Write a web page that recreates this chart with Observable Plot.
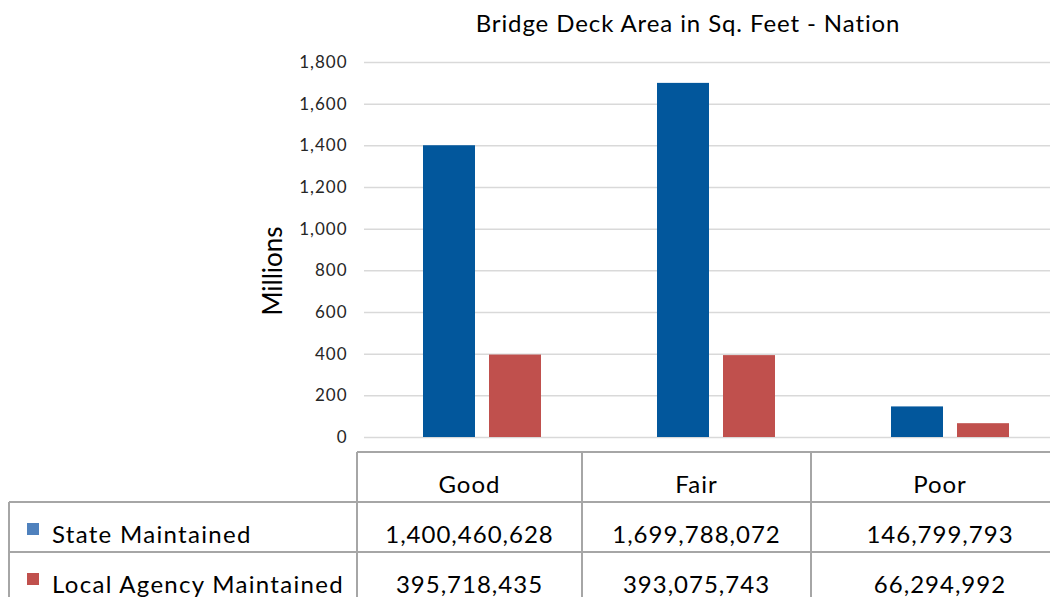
<!DOCTYPE html>
<html>
<head>
<meta charset="utf-8">
<script src="https://cdn.jsdelivr.net/npm/d3@7"></script>
<script src="https://cdn.jsdelivr.net/npm/@observablehq/plot@0.6"></script>
<style>
  html, body { margin: 0; padding: 0; background: #fff; }
  #chart { position: relative; width: 1050px; height: 597px; overflow: hidden; font-family: Lato, "Open Sans", sans-serif; color: #000; }
  #title { position: absolute; left: 0; width: 1376px; top: 8px; text-align: center; font-size: 24px; letter-spacing: 0.9px; }
  #plot { position: absolute; left: 0; top: 0; }
  #plot g[aria-label="y-axis tick label"] text { letter-spacing: 1px; }
  .hline { position: absolute; height: 2px; background: #a6a6a6; }
  .vline { position: absolute; width: 2px; background: #a6a6a6; }
  .cell { position: absolute; box-sizing: border-box; padding-top: 12px; display: flex; align-items: center; justify-content: center; font-size: 24px; letter-spacing: 1px; }
  .rowlabel { position: absolute; box-sizing: border-box; padding-top: 12px; padding-left: 25px; display: flex; align-items: center; font-size: 24px; letter-spacing: 1.3px; white-space: nowrap; }
  .swatch { position: absolute; left: 0; top: 21px; width: 12px; height: 12px; }
</style>
</head>
<body>
<div id="chart">
  <div id="title">Bridge Deck Area in Sq. Feet - Nation</div>
  <div id="plot"></div>
</div>
<script>
// Condition categories and deck area (sq. ft.) by owner
const categories = ["Good", "Fair", "Poor"];
const seriesNames = ["State Maintained", "Local Agency Maintained"];
const stateValues = [1400460628, 1699788072, 146799793];
const localValues = [395718435, 393075743, 66294992];
const yTicks = [0, 200, 400, 600, 800, 1000, 1200, 1400, 1600, 1800];
const barColors = ["#02579c", "#c0504d"];
const swatchColors = ["#4f81bd", "#c0504d"];

const seriesValues = [stateValues, localValues];
const rows = seriesNames.flatMap((s, si) =>
  categories.map((c, ci) => ({series: s, category: c, value: seriesValues[si][ci]}))
);
const fmt = d3.format(",");

const plot = Plot.plot({
  width: 1050,
  height: 452,
  marginLeft: 364,
  marginRight: 0,
  marginTop: 62,
  marginBottom: 15,
  style: {fontFamily: "Lato, sans-serif", color: "#262626", background: "transparent"},
  x: {domain: categories, range: [365, 1067], padding: 0, axis: null},
  y: {domain: [0, 1800], ticks: yTicks, label: null},
  marks: [
    Plot.gridY(yTicks, {stroke: "#d9d9d9", strokeOpacity: 1, strokeWidth: 1.5}),
    Plot.axisY(yTicks, {tickSize: 0, tickPadding: 17, fontSize: 17, tickFormat: fmt, label: null}),
    Plot.barY(rows.filter(d => d.series === seriesNames[0]), {
      x: "category", y: d => d.value / 1e6, fill: barColors[0],
      insetLeft: 91, insetRight: 91, dx: -33
    }),
    Plot.barY(rows.filter(d => d.series === seriesNames[1]), {
      x: "category", y: d => d.value / 1e6, fill: barColors[1],
      insetLeft: 91, insetRight: 91, dx: 33
    }),
    Plot.text(["Millions"], {
      text: d => d, frameAnchor: "left", textAnchor: "middle", rotate: -90,
      dx: -91, dy: 21, fontSize: 26, fill: "#000"
    })
  ]
});
document.getElementById("plot").appendChild(plot);

// Data table beneath the chart
const chart = document.getElementById("chart");
const colEdges = [357, 582, 811, 1069];
const rowEdges = [452, 502, 552, 602];
const labelLeft = 9;

function add(cls, styles, html) {
  const el = document.createElement("div");
  el.className = cls;
  Object.assign(el.style, styles);
  if (html != null) el.innerHTML = html;
  chart.appendChild(el);
  return el;
}

// grid lines of the table
add("hline", {left: colEdges[0] + "px", top: (rowEdges[0] - 1) + "px", width: (1050 - colEdges[0]) + "px"});
for (let r = 1; r < rowEdges.length - 1; r++) {
  add("hline", {left: labelLeft + "px", top: (rowEdges[r] - 1) + "px", width: (1050 - labelLeft) + "px"});
}
colEdges.slice(0, -1).forEach(x =>
  add("vline", {left: (x - 1) + "px", top: rowEdges[0] + "px", height: (597 - rowEdges[0]) + "px"})
);
add("vline", {left: (labelLeft - 1) + "px", top: rowEdges[1] + "px", height: (597 - rowEdges[1]) + "px"});

// header cells
categories.forEach((c, i) => {
  add("cell", {left: colEdges[i] + "px", width: (colEdges[i + 1] - colEdges[i]) + "px",
    top: rowEdges[0] + "px", height: (rowEdges[1] - rowEdges[0]) + "px"}, c);
});

// series rows
seriesNames.forEach((s, si) => {
  const top = rowEdges[si + 1], h = rowEdges[si + 2] - rowEdges[si + 1];
  add("rowlabel", {left: "27px", width: (colEdges[0] - 27) + "px",
    top: top + "px", height: h + "px"},
    `<span class="swatch" style="background:${swatchColors[si]}"></span>${s}`);
  categories.forEach((c, ci) => {
    add("cell", {left: colEdges[ci] + "px", width: (colEdges[ci + 1] - colEdges[ci]) + "px",
      top: top + "px", height: h + "px"}, fmt(seriesValues[si][ci]));
  });
});
</script>
</body>
</html>
